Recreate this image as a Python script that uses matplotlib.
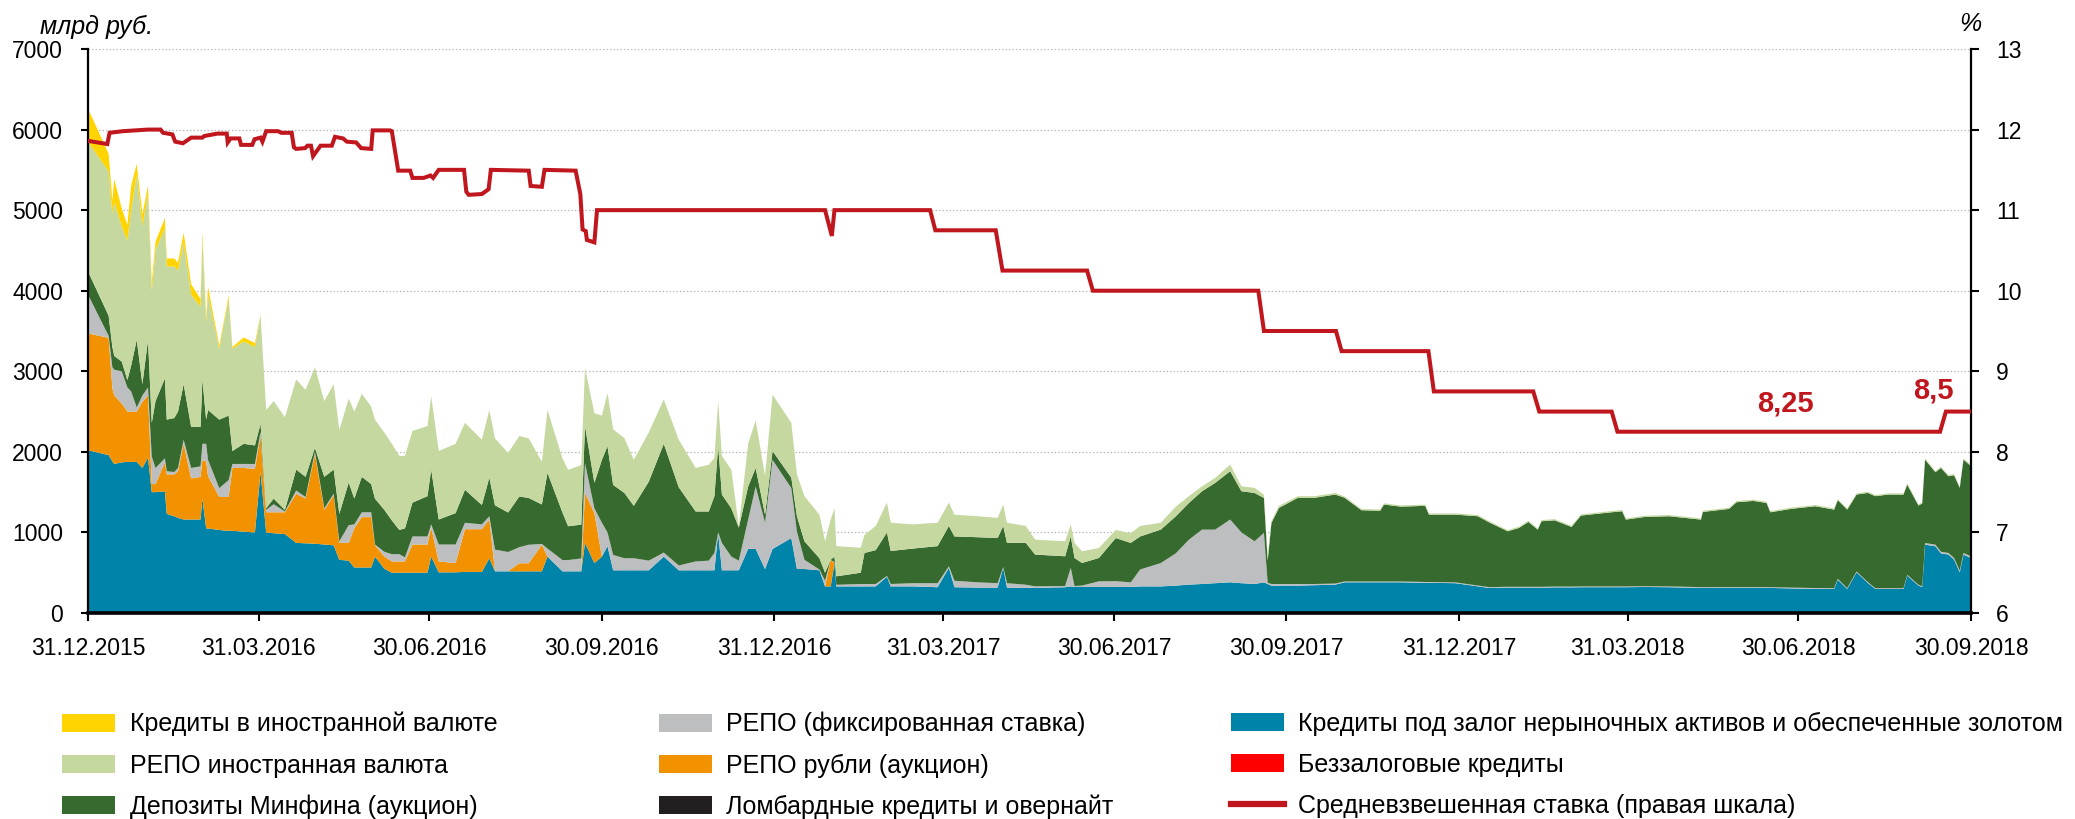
import numpy as np
import pandas as pd
import matplotlib
matplotlib.use("Agg")
import matplotlib.pyplot as plt
import matplotlib.dates as mdates
from matplotlib.patches import Patch
from matplotlib.lines import Line2D

plt.rcParams['font.family'] = ['Liberation Sans', 'DejaVu Sans']

# ---------------- data ----------------
start_date = "2015-12-31"
# days since 31.12.2015
days = [0, 11, 13, 14, 18, 21, 23, 26, 29, 32,
        34, 36, 41, 42, 46, 48, 51, 55, 60, 61,
        63, 64, 70, 75, 77, 83, 89, 92, 95, 99,
        105, 111, 116, 121, 126, 131, 134, 139, 142, 146,
        151, 153, 158, 162, 166, 169, 173, 181, 183, 187,
        196, 201, 210, 214, 217, 224, 230, 235, 242, 245,
        253, 256, 263, 265, 270, 274, 277, 280, 286, 291,
        299, 307, 315, 324, 331, 334, 336, 338, 343, 347,
        352, 356, 361, 365, 375, 378, 382, 390, 393, 396,
        398, 399, 412, 414, 420, 426, 428, 440, 453, 459,
        462, 475, 485, 488, 490, 500, 505, 521, 524, 526,
        530, 539, 548, 556, 561, 572, 580, 587, 594, 601,
        609, 615, 622, 627, 629, 631, 635, 645, 654, 665,
        670, 679, 689, 691, 700, 713, 715, 729, 741, 747,
        757, 763, 768, 773, 775, 782, 791, 796, 809, 818,
        820, 830, 843, 860, 861, 875, 879, 888, 895, 897,
        908, 921, 931, 933, 938, 943, 949, 953, 960, 968,
        970, 976, 978, 979.5, 985, 988, 992, 995, 998, 1000,
        1004]

# Кредиты под залог нерыночных активов и обеспеченные золотом
nonmarket = [2020, 1960, 1880, 1850, 1870, 1875, 1875, 1875, 1800, 1930,
             1500, 1500, 1510, 1230, 1200, 1180, 1160, 1160, 1160, 1420,
             1050, 1050, 1030, 1020, 1020, 1010, 1000, 1750, 1000, 990,
             980, 870, 865, 860, 850, 840, 660, 650, 565, 565,
             565, 700, 550, 500, 500, 500, 500, 500, 700, 505,
             505, 510, 510, 680, 517, 517, 517, 517, 517, 700,
             517, 517, 517, 870, 620, 700, 830, 530, 530, 530,
             530, 700, 530, 530, 530, 530, 990, 530, 530, 530,
             795, 795, 545, 795, 930, 546, 546, 530, 330, 330,
             620, 330, 330, 330, 330, 450, 330, 330, 320, 560,
             320, 315, 315, 560, 315, 311, 311, 320, 330, 323,
             323, 323, 323, 323, 330, 330, 340, 352, 360, 370,
             381, 370, 360, 380, 360, 339, 340, 340, 345, 352,
             381, 381, 381, 381, 381, 375, 375, 370, 331, 311,
             315, 315, 315, 315, 315, 318, 318, 320, 320, 320,
             320, 323, 320, 311, 311, 311, 311, 311, 311, 311,
             305, 300, 298, 414, 298, 505, 373, 298, 298, 298,
             464, 340, 323, 849, 828, 740, 725, 662, 505, 725,
             683]

# РЕПО рубли (аукцион)
repo_rub = [1450, 1455, 910, 850, 730, 625, 625, 625, 820, 770,
            100, 100, 360, 490, 520, 580, 940, 510, 530, 480,
            830, 650, 410, 420, 780, 790, 790, 450, 250, 260,
            270, 610, 555, 1110, 430, 620, 210, 220, 485, 625,
            625, 140, 150, 140, 140, 140, 350, 350, 360, 135,
            115, 530, 530, 480, 0, 0, 100, 100, 330, 0,
            0, 0, 0, 620, 620, 0, 0, 0, 0, 0,
            0, 0, 0, 0, 0, 0, 0, 0, 0, 0,
            0, 0, 0, 0, 0, 0, 0, 0, 0, 330,
            0, 0, 0, 0, 0, 0, 0, 0, 0, 0,
            0, 0, 0, 0, 0, 0, 0, 0, 0, 0,
            0, 0, 0, 0, 0, 0, 0, 0, 0, 0,
            0, 0, 0, 0, 0, 0, 0, 0, 0, 0,
            0, 0, 0, 0, 0, 0, 0, 0, 0, 0,
            0, 0, 0, 0, 0, 0, 0, 0, 0, 0,
            0, 0, 0, 0, 0, 0, 0, 0, 0, 0,
            0, 0, 0, 0, 0, 0, 0, 0, 0, 0,
            0, 0, 0, 0, 0, 0, 0, 0, 0, 0,
            0]

# РЕПО (фиксированная ставка)
repo_fixed = [480, 25, 260, 320, 400, 300, 250, 50, 80, 100,
              340, 200, 50, 40, 30, 40, 50, 130, 130, 200,
              220, 200, 110, 210, 50, 50, 60, 50, 30, 100,
              10, 40, 20, 30, 20, 20, 20, 220, 50, 60,
              60, 10, 60, 90, 90, 50, 100, 100, 40, 210,
              230, 80, 60, 40, 270, 240, 200, 230, 10, 100,
              140, 140, 160, 370, 60, 420, 170, 190, 150, 150,
              120, 50, 60, 110, 120, 215, 10, 340, 170, 120,
              365, 775, 575, 1105, 620, 464, 114, 10, 70, 0,
              10, 20, 30, 30, 30, 10, 30, 40, 50, 20,
              80, 65, 55, 10, 55, 40, 20, 15, 230, 12,
              17, 70, 72, 57, 210, 290, 400, 558, 675, 665,
              779, 630, 530, 614, 15, 21, 20, 20, 15, 13,
              10, 10, 10, 10, 10, 10, 10, 10, 10, 10,
              10, 10, 10, 10, 10, 10, 10, 10, 10, 10,
              10, 10, 10, 10, 10, 10, 10, 10, 10, 10,
              10, 10, 10, 10, 10, 10, 10, 10, 10, 10,
              10, 10, 10, 20, 20, 20, 20, 20, 20, 20,
              20]

# Депозиты Минфина (аукцион)
minfin = [290, 250, 250, 170, 120, 90, 320, 840, 140, 590,
          420, 830, 990, 640, 670, 700, 690, 510, 490, 800,
          300, 620, 850, 800, 160, 250, 230, 100, 20, 70,
          20, 260, 250, 50, 390, 300, 340, 530, 320, 440,
          350, 570, 520, 420, 300, 360, 420, 500, 680, 310,
          390, 410, 240, 480, 550, 490, 630, 580, 490, 940,
          590, 420, 420, 460, 315, 780, 1070, 870, 810, 650,
          980, 1350, 970, 620, 610, 705, 1070, 600, 600, 410,
          410, 230, 100, 110, 130, 190, 230, 140, 100, 0,
          70, 105, 140, 385, 420, 540, 410, 430, 460, 500,
          550, 560, 560, 510, 500, 520, 394, 369, 390, 348,
          281, 290, 535, 490, 410, 415, 460, 456, 476, 580,
          600, 511, 600, 434, 275, 758, 944, 1068, 1070, 1105,
          1040, 884, 879, 955, 929, 945, 836, 841, 860, 805,
          689, 731, 805, 710, 814, 822, 740, 879, 912, 933,
          829, 859, 871, 838, 933, 971, 1054, 1070, 1045, 929,
          977, 1015, 975, 976, 975, 955, 1107, 1142, 1162, 1162,
          1120, 983, 1027, 1035, 899, 1040, 952, 1028, 1028, 1159,
          1119]

# РЕПО иностранная валюта
repo_fx = [1610, 1790, 1650, 1910, 1680, 1730, 1930, 2060, 1960, 1810,
           1640, 1870, 1870, 1900, 1880, 1750, 1760, 1640, 1490, 1750,
           1200, 1430, 880, 1450, 1270, 1270, 1220, 1340, 1220, 1210,
           1150, 1120, 1080, 1000, 940, 1060, 1040, 1040, 1080, 1030,
           960, 980, 960, 950, 920, 900, 890, 870, 910, 850,
           860, 830, 810, 840, 830, 740, 750, 740, 530, 780,
           670, 700, 740, 720, 865, 550, 660, 690, 680, 570,
           610, 550, 590, 540, 580, 475, 560, 480, 480, 20,
           530, 590, 480, 700, 680, 520, 560, 540, 390, 500,
           600, 375, 310, 225, 300, 370, 350, 300, 290, 290,
           270, 260, 250, 265, 250, 210, 185, 186, 150, 187,
           145, 124, 100, 120, 130, 85, 120, 84, 62, 62,
           82, 62, 63, 42, 50, 22, 26, 21, 20, 20,
           15, 15, 15, 15, 15, 15, 15, 15, 15, 15,
           15, 15, 15, 15, 15, 15, 15, 15, 15, 15,
           15, 15, 15, 15, 15, 15, 15, 15, 15, 15,
           15, 15, 15, 15, 15, 15, 15, 15, 15, 15,
           15, 15, 15, 15, 15, 15, 15, 15, 15, 15,
           15]

# Кредиты в иностранной валюте
fx_loans = [410, 220, 170, 280, 220, 200, 300, 125, 150, 100,
            100, 110, 120, 100, 100, 100, 120, 130, 100, 70,
            70, 100, 40, 40, 20, 50, 50, 10, 0, 0,
            0, 0, 0, 0, 0, 0, 0, 0, 0, 0,
            0, 0, 0, 0, 0, 0, 0, 0, 0, 0,
            0, 0, 0, 0, 0, 0, 0, 0, 0, 0,
            0, 0, 0, 0, 0, 0, 0, 0, 0, 0,
            0, 0, 0, 0, 0, 0, 0, 0, 0, 0,
            0, 0, 0, 0, 0, 0, 0, 0, 0, 0,
            0, 0, 0, 0, 0, 0, 0, 0, 0, 0,
            0, 0, 0, 0, 0, 0, 0, 0, 0, 0,
            0, 0, 0, 0, 0, 0, 0, 0, 0, 0,
            0, 0, 0, 0, 0, 0, 0, 0, 0, 0,
            0, 0, 0, 0, 0, 0, 0, 0, 0, 0,
            0, 0, 0, 0, 0, 0, 0, 0, 0, 0,
            0, 0, 0, 0, 0, 0, 0, 0, 0, 0,
            0, 0, 0, 0, 0, 0, 0, 0, 0, 0,
            0, 0, 0, 0, 0, 0, 0, 0, 0, 0,
            0]

# Средневзвешенная ставка (правая шкала), %
rate_days = [0, 10.3, 11.5, 18.6, 32, 38.7, 40, 45, 46.5, 50.6,
             55, 61, 62, 69, 74, 74.5, 76, 80.7, 81.6, 87.6,
             88.8, 92, 93, 95, 101.4, 103, 108.6, 109.8, 111, 115.8,
             117, 118.9, 120, 124, 130, 131.7, 136, 138, 143, 145.6,
             151, 151.8, 161, 162, 165.4, 171.8, 173, 179, 182.6, 184,
             187, 200.5, 201.7, 203, 210, 213.6, 214.8, 235, 236, 242,
             243.4, 260, 262.5, 263.7, 265.4, 266, 270, 271.4, 393, 396.6,
             398, 449, 451.8, 484, 487.6, 532.7, 535.8, 624, 627, 665.4,
             668.4, 714.7, 717.6, 770.6, 773.8, 812.4, 815.5, 987.5, 990.6, 1004]
rate = [11.86, 11.82, 11.96, 11.98, 12.0, 12.0, 11.96, 11.94, 11.85, 11.83,
        11.9, 11.9, 11.92, 11.95, 11.95, 11.84, 11.89, 11.89, 11.81, 11.81,
        11.88, 11.9, 11.85, 11.98, 11.98, 11.96, 11.96, 11.78, 11.76, 11.77,
        11.8, 11.8, 11.67, 11.8, 11.8, 11.91, 11.89, 11.85, 11.84, 11.77,
        11.76, 11.99, 11.99, 11.98, 11.49, 11.49, 11.4, 11.4, 11.43, 11.4,
        11.5, 11.5, 11.23, 11.19, 11.2, 11.26, 11.5, 11.49, 11.3, 11.29,
        11.5, 11.49, 11.2, 10.76, 10.74, 10.63, 10.6, 11.0, 11.0, 10.68,
        11.0, 11.0, 10.75, 10.75, 10.25, 10.25, 10.0, 10.0, 9.5, 9.5,
        9.25, 9.25, 8.75, 8.75, 8.5, 8.5, 8.25, 8.25, 8.5, 8.5]

# annotations on the rate line: (day, level, text)
note_days = [905, 984]
note_levels = [8.6, 8.76]
note_texts = ["8,25", "8,5"]

tick_dates = ["2015-12-31", "2016-03-31", "2016-06-30", "2016-09-30", "2016-12-31",
              "2017-03-31", "2017-06-30", "2017-09-30", "2017-12-31", "2018-03-31",
              "2018-06-30", "2018-09-30"]

labels = {
    "fx_loans": "Кредиты в иностранной валюте",
    "repo_fx": "РЕПО иностранная валюта",
    "minfin": "Депозиты Минфина (аукцион)",
    "repo_fixed": "РЕПО (фиксированная ставка)",
    "repo_rub": "РЕПО рубли (аукцион)",
    "lombard": "Ломбардные кредиты и овернайт",
    "nonmarket": "Кредиты под залог нерыночных активов и обеспеченные золотом",
    "unsecured": "Беззалоговые кредиты",
    "rate": "Средневзвешенная ставка (правая шкала)",
}

colors = {
    "fx_loans": "#FFD400",
    "repo_fx": "#C4D8A0",
    "minfin": "#376A2E",
    "repo_fixed": "#BDBEBF",
    "repo_rub": "#F39200",
    "lombard": "#231F20",
    "nonmarket": "#0083A8",
    "unsecured": "#FF0000",
    "rate": "#C0171E",
}

series = [nonmarket, repo_rub, repo_fixed, minfin, repo_fx, fx_loans]
for s in series:
    if len(s) != len(days):
        raise ValueError(f"length mismatch {len(s)} vs {len(days)}")
if len(rate) != len(rate_days):
    raise ValueError(f"rate mismatch {len(rate)} vs {len(rate_days)}")

base = pd.Timestamp(start_date)
x = base + pd.to_timedelta(np.array(days, dtype=float), unit="D")
xr = base + pd.to_timedelta(np.array(rate_days, dtype=float), unit="D")

# ---------------- figure ----------------
W, H = 2075, 819
fig = plt.figure(figsize=(W / 100, H / 100), dpi=100)
L, R, T, B = 88, 1971, 49, 613
ax = fig.add_axes([L / W, 1 - B / H, (R - L) / W, (B - T) / H])

ax.stackplot(x, nonmarket, repo_rub, repo_fixed, minfin, repo_fx, fx_loans,
             colors=[colors["nonmarket"], colors["repo_rub"], colors["repo_fixed"],
                     colors["minfin"], colors["repo_fx"], colors["fx_loans"]],
             linewidth=0, zorder=2)

ax.set_xlim(pd.Timestamp("2015-12-31"), pd.Timestamp("2018-09-30"))
ax.set_ylim(0, 7000)
ax.set_yticks(range(0, 7001, 1000))
ax.yaxis.grid(True, color="#BBBBBB", linestyle=(0, (1.2, 1.6)), linewidth=0.9, zorder=0)
ax.set_axisbelow(True)

ax.set_xticks([pd.Timestamp(d) for d in tick_dates])
ax.xaxis.set_major_formatter(mdates.DateFormatter("%d.%m.%Y"))

for sp in ["top", "right"]:
    ax.spines[sp].set_visible(False)
ax.spines["left"].set_linewidth(1.6)
ax.spines["bottom"].set_linewidth(2.6)
ax.spines["bottom"].set_zorder(5)

ax.tick_params(axis="y", direction="out", length=5, width=1.5, pad=13, labelsize=16.5, colors="black")
ax.tick_params(axis="x", direction="out", length=6, width=1.5, pad=11, labelsize=16.5)

ax2 = ax.twinx()
ax2.set_ylim(6, 13)
ax2.set_yticks(range(6, 14))
ax2.plot(xr, rate, color=colors["rate"], linewidth=2.9, solid_joinstyle="miter", zorder=5)
for d, lv, t in zip(note_days, note_levels, note_texts):
    ax2.text(base + pd.Timedelta(days=d), lv, t, color=colors["rate"], fontsize=21,
             fontweight="bold", ha="center", va="center")
for sp in ["top", "left", "bottom"]:
    ax2.spines[sp].set_visible(False)
ax2.spines["right"].set_linewidth(1.6)
ax2.tick_params(axis="y", direction="out", length=6, width=1.5, pad=12, labelsize=16.5)

fig.text(97 / W, 1 - 27 / H, "млрд руб.", fontsize=18, style="italic", ha="center", va="center")
fig.text(1970 / W, 1 - 24 / H, "%", fontsize=18, style="italic", ha="center", va="center")

# ---------------- legend (three columns) ----------------
cols = [
    ["fx_loans", "repo_fx", "minfin"],
    ["repo_fixed", "repo_rub", "lombard"],
    ["nonmarket", "unsecured", "rate"],
]
col_x = [62, 659, 1231]
for keys, cx in zip(cols, col_x):
    handles = []
    for k in keys:
        if k == "rate":
            handles.append(Line2D([0], [0], color=colors[k], linewidth=4.5))
        else:
            handles.append(Patch(facecolor=colors[k], edgecolor="none"))
    fig.legend(handles, [labels[k] for k in keys], loc="upper left",
               bbox_to_anchor=(cx / W, 1 - 712 / H), frameon=False, fontsize=18,
               handlelength=2.1, handleheight=0.72, handletextpad=0.6,
               labelspacing=0.68, borderpad=0, borderaxespad=0)

fig.savefig("out.png", dpi=100)
